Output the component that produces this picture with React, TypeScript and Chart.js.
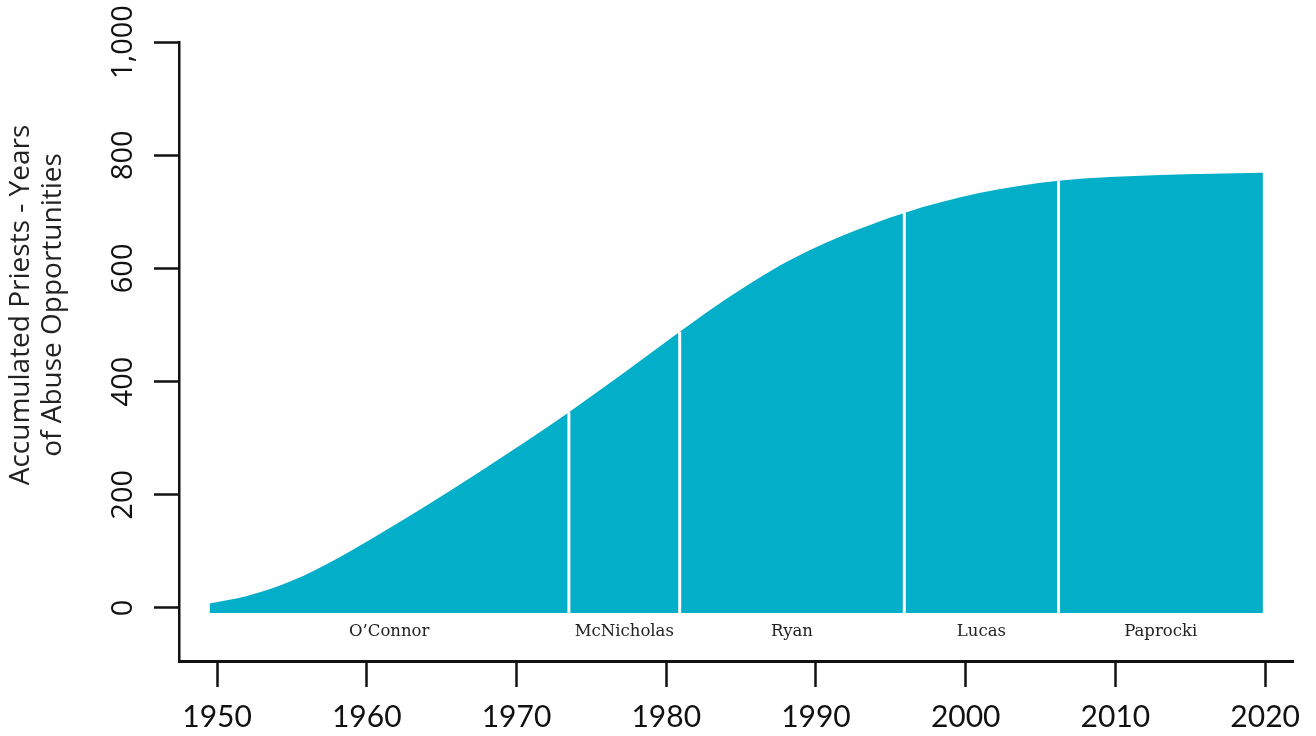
import React, { useEffect, useRef } from "react";
import { Chart, registerables } from "chart.js";

Chart.register(...registerables);

// Accumulated curve (year, value)
const curveYears = [1949.5, 1952, 1955, 1958, 1961, 1964, 1967.5, 1970.5, 1973.5, 1977, 1980.9, 1984, 1987, 1989.5, 1991.6, 1995.9, 2000.9, 2006.2, 2013.0, 2019.85];
const curveValues = [8, 21, 48, 87, 133, 181, 240, 292, 346, 412, 488, 546, 596, 631, 656, 698, 733, 755, 765, 769];

// Bishop eras
const bishopNames = ["O\u2019Connor", "McNicholas", "Ryan", "Lucas", "Paprocki"];
const eraStarts = [1949.5, 1973.5, 1980.9, 1995.9, 2006.2];
const eraEnds = [1973.5, 1980.9, 1995.9, 2006.2, 2019.85];

// Divider lines between eras
const dividerYears = [1973.5, 1980.9, 1995.9, 2006.2];
const dividerValues = [346, 488, 698, 755];

const baseValue = -9;

const xTicks = [1950, 1960, 1970, 1980, 1990, 2000, 2010, 2020];
const yTicks = [0, 200, 400, 600, 800, 1000];
const yTickLabels = ["0", "200", "400", "600", "800", "1,000"];

const yTitleLines = ["Accumulated Priests - Years", "of Abuse Opportunities"];

const TEAL = "#02AEC8";

export default function App() {
  const ref = useRef<HTMLCanvasElement | null>(null);

  useEffect(() => {
    if (!ref.current) return;

    const overlay = {
      id: "overlay",
      afterDraw(chart: any) {
        const ctx = chart.ctx;
        const xs = chart.scales.x;
        const ys = chart.scales.y;
        ctx.save();
        // y tick labels (rotated)
        ctx.fillStyle = "#111";
        ctx.font = "29px 'Open Sans'";
        ctx.textAlign = "center";
        ctx.textBaseline = "middle";
        yTicks.forEach((v, i) => {
          const py = ys.getPixelForValue(v);
          ctx.save();
          ctx.translate(124, py);
          ctx.rotate(-Math.PI / 2);
          ctx.fillText(yTickLabels[i], 0, 0);
          ctx.restore();
        });
        // y title
        ctx.font = "28px 'Open Sans'";
        ctx.fillStyle = "#222";
        const midY = 305;
        const lineXs = [21, 53];
        yTitleLines.forEach((t, i) => {
          ctx.save();
          ctx.translate(lineXs[i], midY);
          ctx.rotate(-Math.PI / 2);
          ctx.fillText(t, 0, 0);
          ctx.restore();
        });
        // bishop labels
        ctx.font = "16.5px 'DejaVu Serif'";
        ctx.fillStyle = "#222";
        bishopNames.forEach((n, i) => {
          const mid = (eraStarts[i] + eraEnds[i]) / 2;
          ctx.fillText(n, xs.getPixelForValue(mid), 632);
        });
        ctx.restore();
      },
    };

    const dividerSets = dividerYears.map((yr, i) => ({
      type: "line" as const,
      data: [
        { x: yr, y: baseValue },
        { x: yr, y: dividerValues[i] },
      ],
      borderColor: "#ffffff",
      borderWidth: 3,
      pointRadius: 0,
      fill: false,
      order: 1,
    }));

    const chart = new Chart(ref.current, {
      type: "line",
      data: {
        datasets: [
          {
            data: curveYears.map((x, i) => ({ x, y: curveValues[i] })),
            borderWidth: 0,
            borderColor: TEAL,
            backgroundColor: TEAL,
            pointRadius: 0,
            cubicInterpolationMode: "monotone",
            fill: { value: baseValue },
            order: 2,
          },
          ...dividerSets,
        ] as any,
      },
      options: {
        animation: false,
        responsive: true,
        maintainAspectRatio: false,
        layout: { padding: { top: 42, right: 23, left: 0, bottom: 0 } },
        plugins: {
          legend: { display: false },
          tooltip: { enabled: false },
          title: { display: false },
        },
        scales: {
          x: {
            type: "linear",
            min: 1947.46,
            max: 2021.86,
            afterBuildTicks: (s: any) => {
              s.ticks = xTicks.map((v) => ({ value: v }));
            },
            afterFit: (s: any) => {
              s.height = 75;
            },
            ticks: {
              font: { family: "Lato", size: 30 },
              color: "#111",
              padding: 12,
              maxRotation: 0,
              callback: (v: any) => String(v),
            },
            grid: {
              drawOnChartArea: false,
              drawTicks: true,
              tickLength: 26,
              tickWidth: 2.5,
              tickColor: "#111",
            },
            border: { display: true, color: "#111", width: 3 },
          },
          y: {
            type: "linear",
            min: -93.7,
            max: 1000,
            afterBuildTicks: (s: any) => {
              s.ticks = yTicks.map((v) => ({ value: v }));
            },
            afterFit: (s: any) => {
              s.width = 179;
            },
            ticks: { display: false },
            grid: {
              drawOnChartArea: false,
              drawTicks: true,
              tickLength: 25,
              tickWidth: 2.5,
              tickColor: "#111",
            },
            border: { display: true, color: "#111", width: 2.5 },
          },
        },
      },
      plugins: [overlay],
    });

    return () => chart.destroy();
  }, []);

  return (
    <div style={{ position: "fixed", left: 0, top: 0, width: 1316, height: 736, background: "#fff" }}>
      <canvas ref={ref} />
    </div>
  );
}
